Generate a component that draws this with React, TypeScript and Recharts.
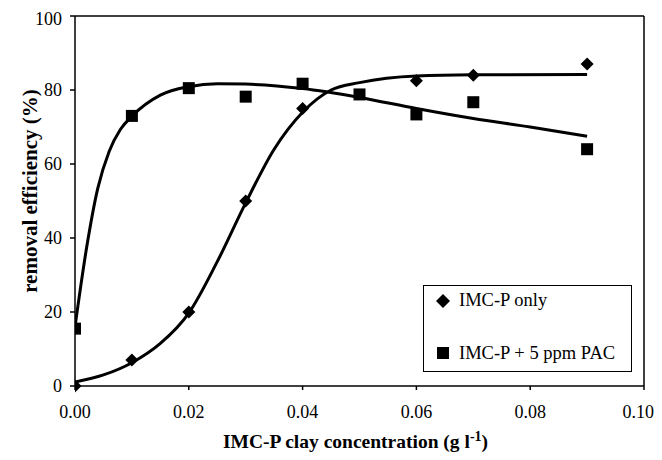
import React from "react";
import {
  ComposedChart,
  Line,
  Scatter,
  XAxis,
  YAxis,
  ReferenceLine,
  Label,
} from "recharts";

// Measured points
const imcX = [0, 0.01, 0.02, 0.03, 0.04, 0.06, 0.07, 0.09];
const imcY = [0, 7, 20, 50, 75, 82.5, 84, 87];
const pacX = [0, 0.01, 0.02, 0.03, 0.04, 0.05, 0.06, 0.07, 0.09];
const pacY = [15.5, 73, 80.5, 78.2, 81.7, 78.8, 73.4, 76.7, 64];

// Fitted curves
const imcFitX = [0, 0.005, 0.01, 0.015, 0.02, 0.025, 0.03, 0.035, 0.04, 0.045, 0.05, 0.06, 0.07, 0.09];
const imcFitY = [1.1, 3, 6.3, 11.5, 19.7, 33.6, 49.5, 64, 74, 80, 82, 83.8, 84.1, 84.2];
const pacFitX = [0, 0.002, 0.004, 0.006, 0.008, 0.01, 0.015, 0.02, 0.025, 0.03, 0.04, 0.05, 0.06, 0.07, 0.08, 0.09];
const pacFitY = [16, 37, 53.4, 63.4, 69.4, 72.9, 78.6, 80.9, 81.7, 81.6, 80.4, 78, 75, 72.3, 70, 67.5];

const xTicks = [0, 0.02, 0.04, 0.06, 0.08, 0.1];
const yTicks = [0, 20, 40, 60, 80, 100];

const seriesNames = ["IMC-P only", "IMC-P + 5 ppm PAC"];

const zip = (xs: number[], ys: number[]) => xs.map((x, i) => ({ x, y: ys[i] }));
const imcPts = zip(imcX, imcY);
const pacPts = zip(pacX, pacY);
const imcFit = zip(imcFitX, imcFitY);
const pacFit = zip(pacFitX, pacFitY);

const FONT = "'Liberation Serif', 'Times New Roman', serif";

const Diamond = (props: any) => {
  const { cx, cy } = props;
  if (cx == null || cy == null) return null;
  const r = 6.5;
  return (
    <path
      d={`M${cx},${cy - r}L${cx + r},${cy}L${cx},${cy + r}L${cx - r},${cy}Z`}
      fill="#000"
    />
  );
};

const Square = (props: any) => {
  const { cx, cy } = props;
  if (cx == null || cy == null) return null;
  const s = 12;
  return <rect x={cx - s / 2} y={cy - s / 2} width={s} height={s} fill="#000" />;
};

const LegendBox = () => (
  <div
    style={{
      position: "absolute",
      left: 415,
      top: 277,
      width: 207,
      height: 85,
      border: "1px solid #000",
      background: "#fff",
      fontFamily: FONT,
      fontSize: 18.5,
      lineHeight: "20px",
      color: "#000",
    }}
  >
    <svg width={14} height={14} style={{ position: "absolute", left: 12, top: 8 }}>
      <path d="M7,0L14,7L7,14L0,7Z" fill="#000" />
    </svg>
    <span style={{ position: "absolute", left: 35, top: 4, whiteSpace: "nowrap" }}>
      {seriesNames[0]}
    </span>
    <svg width={12} height={12} style={{ position: "absolute", left: 13, top: 61 }}>
      <rect x={0} y={0} width={12} height={12} fill="#000" />
    </svg>
    <span style={{ position: "absolute", left: 35, top: 57, whiteSpace: "nowrap" }}>
      {seriesNames[1]}
    </span>
  </div>
);

export default function App() {
  return (
    <div style={{ width: 646, height: 444, position: "relative" }}>
      <ComposedChart
        width={646}
        height={444}
        margin={{ top: 8, right: 10, left: 0, bottom: 0 }}
      >
        <XAxis
          type="number"
          dataKey="x"
          domain={[0, 0.1]}
          ticks={xTicks}
          tickFormatter={(v: number) => v.toFixed(2)}
          allowDataOverflow
          height={66}
          stroke="#000"
          strokeWidth={1.5}
          tickSize={4}
          tickMargin={15}
          tick={{ fill: "#000", fontFamily: FONT, fontSize: 18 }}
        >
          <Label
            content={(p: any) => {
              const vb = p.viewBox || {};
              const cx = vb.x + vb.width / 2 - 4;
              const y = vb.y + 62;
              return (
                <text
                  x={cx}
                  y={y}
                  textAnchor="middle"
                  fontFamily={FONT}
                  fontWeight="bold"
                  fontSize={19.5}
                  fill="#000"
                >
                  IMC-P clay concentration (g l
                  <tspan dy={-7} fontSize={14}>-1</tspan>
                  <tspan dy={7}>)</tspan>
                </text>
              );
            }}
          />
        </XAxis>
        <YAxis
          type="number"
          domain={[0, 100]}
          ticks={yTicks}
          width={67}
          stroke="#000"
          strokeWidth={1.5}
          tickSize={5}
          tickMargin={8}
          tick={{ fill: "#000", fontFamily: FONT, fontSize: 18 }}
        >
          <Label
            content={(p: any) => {
              const vb = p.viewBox || {};
              const cx = 22;
              const cy = vb.y + vb.height / 2 - 10;
              return (
                <text
                  x={cx}
                  y={cy}
                  transform={`rotate(-90 ${cx} ${cy})`}
                  textAnchor="middle"
                  dominantBaseline="central"
                  fontFamily={FONT}
                  fontWeight="bold"
                  fontSize={21}
                  fill="#000"
                >
                  removal efficiency (%)
                </text>
              );
            }}
          />
        </YAxis>
        <ReferenceLine y={100} stroke="#000" strokeWidth={1.5} ifOverflow="visible" />
        <ReferenceLine x={0.1} stroke="#000" strokeWidth={1.5} ifOverflow="visible" />
        <Line
          data={imcFit}
          dataKey="y"
          type="monotone"
          stroke="#000"
          strokeWidth={3}
          dot={false}
          activeDot={false}
          isAnimationActive={false}
          legendType="none"
        />
        <Line
          data={pacFit}
          dataKey="y"
          type="monotone"
          stroke="#000"
          strokeWidth={3}
          dot={false}
          activeDot={false}
          isAnimationActive={false}
          legendType="none"
        />
        <Scatter
          name={seriesNames[0]}
          data={imcPts}
          dataKey="y"
          shape={Diamond}
          isAnimationActive={false}
        />
        <Scatter
          name={seriesNames[1]}
          data={pacPts}
          dataKey="y"
          shape={Square}
          isAnimationActive={false}
        />
      </ComposedChart>
      <LegendBox />
    </div>
  );
}
